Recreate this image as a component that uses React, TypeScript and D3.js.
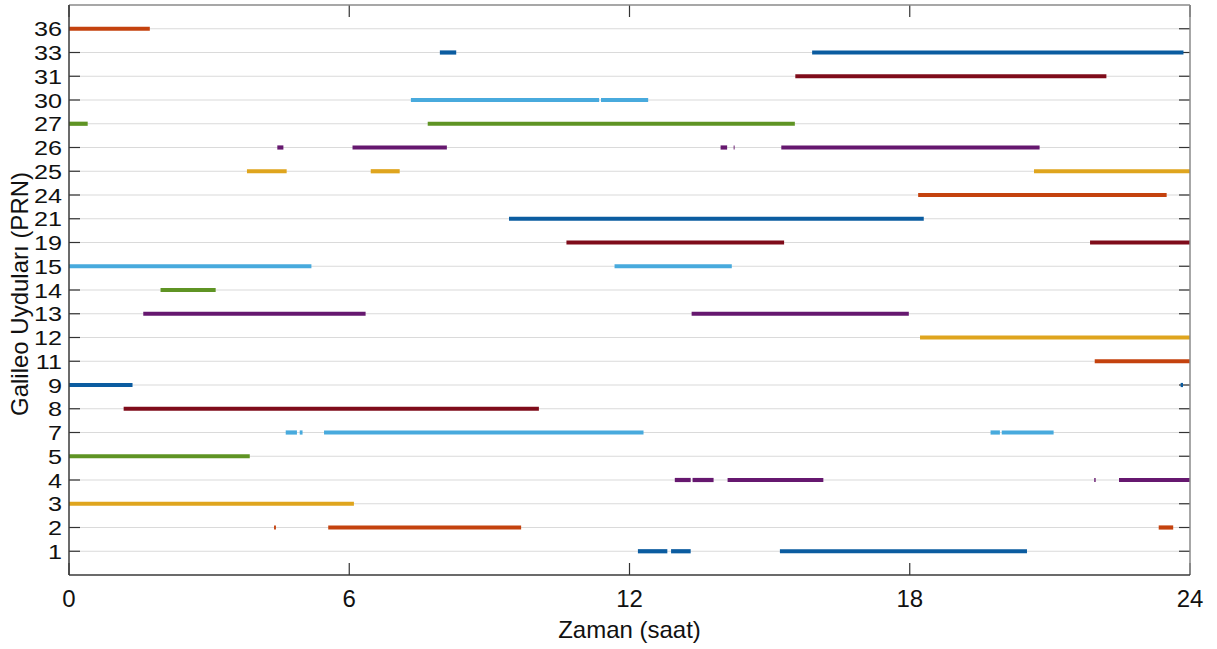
import React from "react";
import * as d3 from "d3";

// satellite rows, bottom to top
const prns = ["1", "2", "3", "4", "5", "7", "8", "9", "11", "12", "13", "14", "15", "19", "21", "24", "25", "26", "27", "30", "31", "33", "36"];

// colour cycle (darkened MATLAB order)
const palette = ["#0B5CA0", "#C4420E", "#DFA51E", "#66186F", "#5F9424", "#48AADD", "#7F0C1A"];

const xTicks = [0, 6, 12, 18, 24];

// visibility windows in hours, [start, end]
const sat1 = [[12.18, 12.81], [12.89, 13.31], [15.22, 20.51]];
const sat2 = [[4.39, 4.43], [5.55, 9.68], [23.33, 23.64]];
const sat3 = [[0, 6.1]];
const sat4 = [[12.97, 13.31], [13.35, 13.8], [14.1, 16.15], [21.95, 21.98], [22.48, 24]];
const sat5 = [[0, 3.87]];
const sat7 = [[4.64, 4.88], [4.94, 5.0], [5.46, 12.3], [19.73, 19.93], [19.97, 21.08]];
const sat8 = [[1.17, 10.06]];
const sat9 = [[0, 1.36], [23.8, 23.85]];
const sat11 = [[21.96, 24]];
const sat12 = [[18.22, 24]];
const sat13 = [[1.59, 6.35], [13.33, 17.98]];
const sat14 = [[1.96, 3.14]];
const sat15 = [[0, 5.19], [11.68, 14.19]];
const sat19 = [[10.65, 15.31], [21.86, 24]];
const sat21 = [[9.42, 18.3]];
const sat24 = [[18.18, 23.5]];
const sat25 = [[3.81, 4.66], [6.46, 7.08], [20.66, 24]];
const sat26 = [[4.46, 4.59], [6.07, 8.09], [13.95, 14.09], [14.23, 14.25], [15.25, 20.78]];
const sat27 = [[0, 0.4], [7.68, 15.54]];
const sat30 = [[7.32, 11.35], [11.39, 12.4]];
const sat31 = [[15.55, 22.21]];
const sat33 = [[7.94, 8.29], [15.91, 23.86]];
const sat36 = [[0, 1.73]];

const windows = [sat1, sat2, sat3, sat4, sat5, sat7, sat8, sat9, sat11, sat12, sat13, sat14, sat15, sat19, sat21, sat24, sat25, sat26, sat27, sat30, sat31, sat33, sat36];

const W = 1217;
const H = 649;
const left = 69, right = 1190, top = 5, bottom = 575;
const font = "Arial, 'Liberation Sans', sans-serif";

export default function App() {
  const x = d3.scaleLinear().domain([0, 24]).range([left, right]);
  const y = d3.scalePoint<string>().domain(prns).range([bottom, top]).padding(1);

  return (
    <svg width={W} height={H} style={{ position: "absolute", left: 0, top: 0, background: "#fff" }} fontFamily={font}>
      <rect x={0} y={0} width={W} height={H} fill="#fff" />

      {/* grid */}
      {prns.map((p) => (
        <line key={"g" + p} x1={left} x2={right} y1={y(p)} y2={y(p)} stroke="#dadada" strokeWidth={1.2} />
      ))}

      {/* ticks sit under the bars */}
      {prns.map((p) => (
        <g key={"yt" + p}>
          <line x1={left} x2={left + 11} y1={y(p)} y2={y(p)} stroke="#333" strokeWidth={1.2} />
          <line x1={right - 11} x2={right} y1={y(p)} y2={y(p)} stroke="#333" strokeWidth={1.2} />
        </g>
      ))}
      {xTicks.map((t) => (
        <g key={"xt" + t}>
          <line x1={x(t)} x2={x(t)} y1={bottom} y2={bottom - 12} stroke="#333" strokeWidth={1.2} />
          <line x1={x(t)} x2={x(t)} y1={top} y2={top + 12} stroke="#333" strokeWidth={1.2} />
        </g>
      ))}

      {/* passes */}
      {windows.map((segs, i) =>
        segs.map(([a, b], j) => (
          <line
            key={prns[i] + "-" + j}
            x1={x(a)}
            x2={x(b)}
            y1={y(prns[i])}
            y2={y(prns[i])}
            stroke={palette[i % palette.length]}
            strokeWidth={4.2}
          />
        ))
      )}

      {/* box */}
      <line x1={left} x2={right} y1={top} y2={top} stroke="#8a8a8a" strokeWidth={1.5} />
      <line x1={right} x2={right} y1={top} y2={bottom} stroke="#8a8a8a" strokeWidth={1.5} />
      <line x1={left} x2={right} y1={bottom} y2={bottom} stroke="#3a3a3a" strokeWidth={1.5} />
      <line x1={left} x2={left} y1={top} y2={bottom} stroke="#3a3a3a" strokeWidth={1.5} />

      {/* y labels */}
      {prns.map((p) => (
        <text
          key={"yl" + p}
          transform={`translate(62,${(y(p) as number) + 7.5}) scale(1.05,0.86)`}
          textAnchor="end"
          fontSize={24}
          fill="#111"
        >
          {p}
        </text>
      ))}

      {/* x labels */}
      {xTicks.map((t) => (
        <text key={"xl" + t} x={x(t)} y={607} textAnchor="middle" fontSize={24} fill="#111">
          {t}
        </text>
      ))}

      <text x={(left + right) / 2} y={638} textAnchor="middle" fontSize={24} fill="#111">
        Zaman (saat)
      </text>
      <text
        transform={`translate(28,${(top + bottom) / 2 + 4}) rotate(-90)`}
        textAnchor="middle"
        fontSize={24}
        fill="#111"
      >
        Galileo Uyduları (PRN)
      </text>
    </svg>
  );
}
